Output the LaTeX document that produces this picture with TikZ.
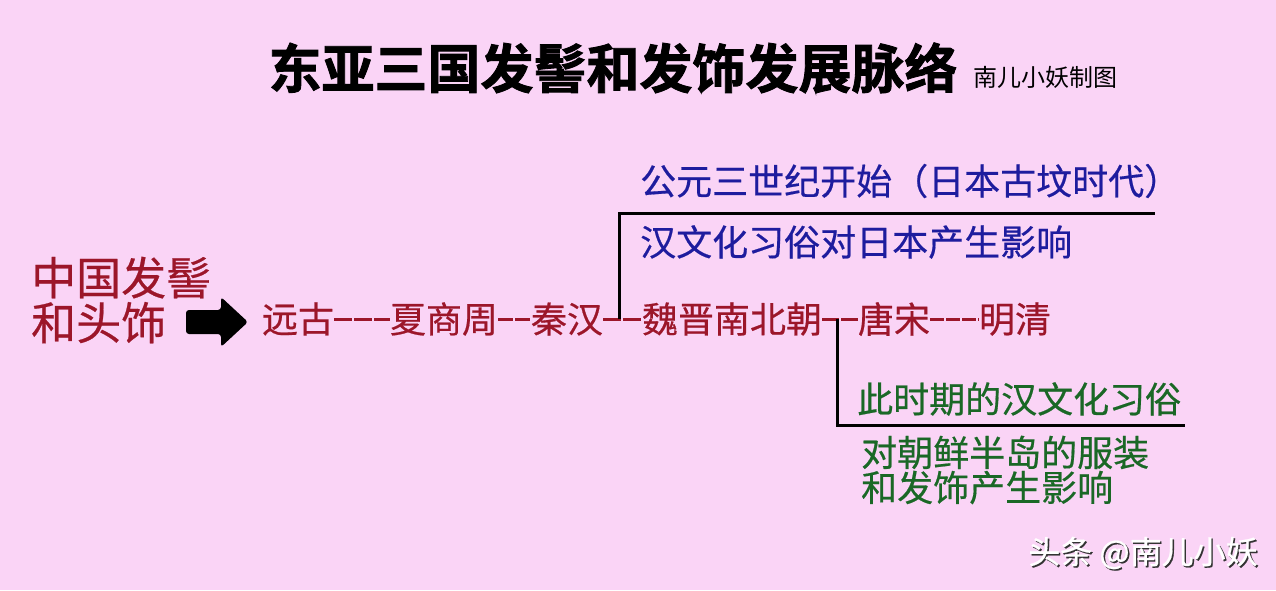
\documentclass[tikz,border=0pt]{standalone}
\usepackage{fontspec}
\newfontfamily\cjk{Noto Sans CJK SC}[FakeBold=0.5]
\newfontfamily\cjkthin{Noto Sans CJK SC}
\newfontfamily\cjktitle{Noto Sans CJK SC}[UprightFont=* Bold,FakeBold=1.6]
\definecolor{bgpink}{RGB}{250,212,246}
\definecolor{eracolor}{RGB}{156,22,42}
\definecolor{japancolor}{RGB}{30,28,158}
\definecolor{koreacolor}{RGB}{26,104,38}
\tikzset
{
	my era/.style={inner sep=0pt,text=eracolor,font=\cjk\fontsize{36}{36}\selectfont},
	my note/.style={inner sep=0pt,anchor=west,align=left,font=\cjk\fontsize{36}{35}\selectfont},
	my line/.style={line width=3pt,line join=miter},
	my dash/.style={eracolor,line width=3pt,dash pattern=on #1 off 2pt}
}
\begin{document}
\begin{tikzpicture}[x=1pt,y=-1pt]
		% background
		\fill[bgpink] (0,0) rectangle (1276,590);
		% title
		\node[font=\cjktitle\fontsize{53}{53}\selectfont] (title) at (613,68) {东亚三国发髻和发饰发展脉络};
		\node[font=\cjkthin\fontsize{24}{24}\selectfont] (maker) at (1045,77) {南儿小妖制图};
		% topic and arrow
		\node[my era,anchor=west,align=left,font=\cjk\fontsize{45}{45}\selectfont] (topic) at (31,300) {中国发髻\\和头饰};
		\fill[rounded corners=3pt] (186,310) -- (221,310) -- (221,297) -- (248,322) -- (221,347) -- (221,334) -- (186,334) -- cycle;
		% eras
		\node[my era] (yuangu) at (298,319) {远古};
		\node[my era] (xia) at (444,319) {夏商周};
		\node[my era] (qin) at (567,319) {秦汉};
		\node[my era] (wei) at (732,319) {魏晋南北朝};
		\node[my era] (tang) at (894,319) {唐宋};
		\node[my era] (ming) at (1015,319) {明清};
		\draw[my dash=18pt] (yuangu.east) -- (xia.west);
		\draw[my dash=15pt] (xia.east) -- (qin.west);
		\draw[my dash=18pt] (qin.east) -- (wei.west);
		\draw[my dash=17pt] (wei.east) -- (tang.west);
		\draw[my dash=14pt] (tang.east) -- (ming.west);
		% branches
		\coordinate (fork japan) at (619,319);
		\coordinate (end japan) at (1155,213);
		\coordinate (fork korea) at (837,319);
		\coordinate (end korea) at (1185,425);
		\draw[my line] (fork japan) |- (end japan);
		\draw[my line] (fork korea) |- (end korea);
		% notes
		\node[my note,text=japancolor] (japan top) at (640,181) {公元三世纪开始（日本古坟时代）};
		\node[my note,text=japancolor] (japan low) at (640,242) {汉文化习俗对日本产生影响};
		\node[my note,text=koreacolor] (korea top) at (857,399) {此时期的汉文化习俗};
		\node[my note,text=koreacolor] (korea low) at (861,470) {对朝鲜半岛的服装\\和发饰产生影响};
		% watermark
		\node[text=black!80,font=\cjk\fontsize{32}{32}\selectfont] (mark shadow) at (1144.5,554.5) {头条 @南儿小妖};
		\node[text=white,font=\cjk\fontsize{32}{32}\selectfont] (mark) at (1143,553) {头条 @南儿小妖};
	\end{tikzpicture}
\end{document}
